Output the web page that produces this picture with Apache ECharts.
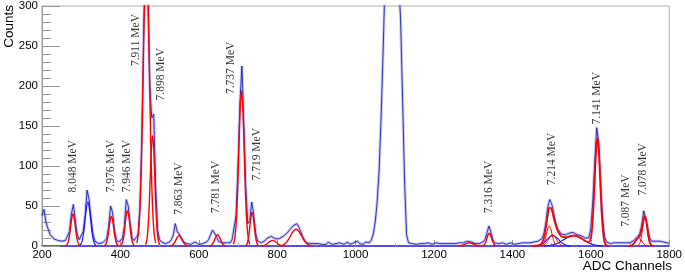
<!DOCTYPE html>
<html>
<head>
<meta charset="utf-8">
<script src="https://cdn.jsdelivr.net/npm/echarts@6/dist/echarts.min.js"></script>
<style>
html, body { margin: 0; padding: 0; background: #fff; }
#chart { width: 685px; height: 275px; }
</style>
</head>
<body>
<div id="chart"></div>
<script>
// histogram: counts per 5-channel bin, 200 .. 1800
const binStart = 200
const binWidth = 5
const counts = [
  38, 46, 30, 22, 15, 12, 9, 11, 7, 9,            // 200
  6, 8, 7, 8, 18, 40, 52, 32, 14, 8,              // 250
  10, 18, 38, 70, 58, 35, 15, 6, 4, 3,            // 300
  4, 4, 5, 9, 24, 50, 42, 20, 8, 5,               // 350
  6, 9, 24, 58, 50, 28, 10, 7, 7, 14,             // 400
  50, 140, 280, 370, 320, 200, 160, 165, 75, 20,  // 450
  8, 5, 4, 3, 4, 5, 8, 14, 28, 18,                // 500
  15, 9, 5, 4, 3, 4, 2, 3, 5, 3,                  // 550
  2, 4, 3, 5, 5, 8, 14, 20, 18, 12,               // 600
  6, 4, 4, 3, 4, 6, 4, 8, 10, 38,                 // 650
  100, 180, 225, 150, 72, 28, 32, 55, 40, 16,     // 700
  6, 4, 4, 5, 7, 10, 12, 12, 10, 9,               // 750
  8, 9, 10, 12, 14, 16, 19, 22, 25, 27,           // 800
  28, 24, 18, 12, 7, 4, 4, 3, 3, 3,               // 850
  2, 3, 4, 2, 3, 2, 5, 3, 2, 3,                   // 900
  3, 2, 4, 3, 2, 3, 5, 2, 3, 4,                   // 950
  3, 6, 3, 4, 2, 5, 3, 4, 7, 15,                  // 1000
  30, 55, 95, 160, 240, 330, 400, 440, 460, 470,  // 1050
  450, 400, 330, 280, 180, 80, 14, 4, 4, 3,       // 1100
  3, 2, 4, 3, 2, 3, 2, 4, 3, 2,                   // 1150
  3, 4, 2, 3, 5, 3, 2, 3, 4, 3,                   // 1200
  2, 3, 3, 4, 3, 4, 4, 6, 6, 5,                   // 1250
  3, 3, 4, 3, 4, 5, 8, 16, 25, 18,                // 1300
  8, 4, 3, 3, 2, 4, 3, 2, 3, 4,                   // 1350
  3, 2, 4, 3, 3, 4, 3, 4, 3, 4,                   // 1400
  4, 5, 5, 6, 7, 9, 15, 28, 48, 58,               // 1450
  53, 42, 30, 22, 18, 15, 13, 14, 15, 16,         // 1500
  15, 17, 16, 14, 15, 13, 12, 10, 12, 10,         // 1550
  22, 55, 105, 148, 130, 80, 35, 12, 5, 4,        // 1600
  3, 3, 4, 3, 4, 5, 4, 5, 4, 4,                   // 1650
  4, 5, 7, 9, 12, 16, 26, 44, 42, 24,             // 1700
  10, 6, 5, 6, 5, 6, 4, 5, 4, 4,                  // 1750
  3                                               // 1800
]

// red fit components [channel, counts]
const fit8048 = [[261,0.4],[264,1.8],[267,5.4],[270,13],[273,24],[276,35],[279,40],[282,35],[285,24],[288,13],[291,5.4],[294,1.8],[297,0.4]]
const fit7976 = [[359,0.4],[362,1.6],[365,5],[368,12],[371,22.6],[374,32.6],[377,37],[380,32.6],[383,22.6],[386,12],[389,5],[392,1.6],[395,0.4]]
const fit7946 = [[400,0.5],[403,1.9],[406,5.9],[409,14],[412,27],[415,39],[418,44],[421,39],[424,27],[427,14],[430,5.9],[433,1.9],[436,0.5]]
const fit7911 = [[442,4],[446,16],[450,49],[454,115],[458,220],[462,317],[466,360],[470,317],[474,220],[478,115],[482,49],[486,16],[490,4]]
const fit7898 = [[464,1.5],[467,6],[470,19],[473,44],[476,84],[479,121],[482,138],[485,121],[488,84],[491,44],[494,19],[497,6],[500,1.5]]
const fit7863 = [[526,0.1],[530,0.6],[534,1.8],[538,4.2],[542,8],[546,11.4],[550,13],[554,11.4],[558,8],[562,4.2],[566,1.8],[570,0.6],[574,0.1]]
const fit7781 = [[627,0.15],[630.5,0.6],[634,1.9],[637.5,4.5],[641,8.5],[644.5,12.3],[648,14],[651.5,12.3],[655,8.5],[658.5,4.5],[662,1.9],[665.5,0.6],[669,0.15]]
const fit7737 = [[688,2.1],[691.5,8.5],[695,26],[698.5,62],[702,118],[705.5,171],[709,194],[712.5,171],[716,118],[719.5,62],[723,26],[726.5,8.5],[730,2.1]]
const fit7719 = [[719.5,0.5],[722.25,1.8],[725,5.7],[727.75,13.4],[730.5,25.6],[733.25,37],[736,42],[738.75,37],[741.5,25.6],[744.25,13.4],[747,5.7],[749.75,1.8],[752.5,0.5]]
const fit790 = [[758,0.08],[763,0.3],[768,0.9],[773,2.2],[778,4.3],[783,6.2],[788,7],[793,6.2],[798,4.3],[803,2.2],[808,0.9],[813,0.3],[818,0.08]]
const fit850 = [[806,0.2],[813,0.9],[820,2.8],[827,6.7],[834,12.8],[841,18.5],[848,21],[855,18.5],[862,12.8],[869,6.7],[876,2.8],[883,0.9],[890,0.2]]
const fit1290 = [[1260,0.04],[1265,0.2],[1270,0.5],[1275,1.3],[1280,2.4],[1285,3.5],[1290,4],[1295,3.5],[1300,2.4],[1305,1.3],[1310,0.5],[1315,0.2],[1320,0.04]]
const fit7316 = [[1323,0.2],[1326,0.7],[1329,2.2],[1332,5.1],[1335,9.8],[1338,14.1],[1341,16],[1344,14.1],[1347,9.8],[1350,5.1],[1353,2.2],[1356,0.7],[1359,0.2]]
const fit7214a = [[1473,0.3],[1476.5,1.1],[1480,3.4],[1483.5,8],[1487,15.3],[1490.5,22],[1494,25],[1497.5,22],[1501,15.3],[1504.5,8],[1508,3.4],[1511.5,1.1],[1515,0.3]]
const fit7214b = [[1472,0.15],[1477,0.6],[1482,1.9],[1487,4.5],[1492,8.5],[1497,12.3],[1502,14],[1507,12.3],[1512,8.5],[1517,4.5],[1522,1.9],[1527,0.6],[1532,0.15]]
const fitCluster = [[1450,0.1],[1460,0.3],[1470,1.4],[1475,3.6],[1480,9],[1485,21],[1490,38],[1495,48],[1500,46],[1505,36],[1510,27],[1515,20],[1520,15],[1525,12],[1530,11],[1535,11],[1540,11],[1545,12],[1550,12.6],[1555,13],[1560,12.9],[1565,12.2],[1570,11.2],[1575,9.8],[1580,8.2],[1585,6.6],[1590,5.3],[1595,4.9],[1600,9.8],[1603,20],[1605,33],[1608,60],[1610,82],[1612,105],[1614,123],[1617,135],[1620,123],[1622,105],[1624,82],[1627,48],[1630,24],[1632,14],[1635,5],[1640,0.6],[1645,0]]
const fit7087 = [[1698,0.1],[1702,0.44],[1706,1.35],[1710,3.2],[1714,6.1],[1718,8.8],[1722,10],[1726,8.8],[1730,6.1],[1734,3.2],[1738,1.35],[1742,0.44],[1746,0.1]]
const fit7078 = [[1720,0.4],[1723,1.6],[1726,4.9],[1729,11.5],[1732,22],[1735,31.7],[1738,36],[1741,31.7],[1744,22],[1747,11.5],[1750,4.9],[1753,1.6],[1756,0.4]]
const fitTail = [[1695,0],[1700,0.2],[1705,1],[1710,3.2],[1715,6.8],[1720,10.1],[1725,12.7],[1730,20.9],[1733,29],[1735,34.5],[1738,37.4],[1740,35],[1743,26],[1745,18.5],[1750,4.9],[1755,0.7],[1760,0]]

// blue (background / unassigned) fit components
const bgPeak317 = [[296,0.6],[299.5,2.4],[303,7.4],[306.5,17.6],[310,33.5],[313.5,48],[317,55],[320.5,48],[324,33.5],[327.5,17.6],[331,7.4],[334.5,2.4],[338,0.6]]
const bgHump1 = [[1458,0.14],[1465.5,0.6],[1473,1.8],[1480.5,4.2],[1488,7.9],[1495.5,11.4],[1503,13],[1510.5,11.4],[1518,7.9],[1525.5,4.2],[1533,1.8],[1540.5,0.6],[1548,0.14]]
const bgHump2 = [[1481,0.14],[1493.5,0.6],[1506,1.8],[1518.5,4.2],[1531,7.9],[1543.5,11.4],[1556,13],[1568.5,11.4],[1581,7.9],[1593.5,4.2],[1606,1.8],[1618.5,0.6],[1631,0.14]]

// peak annotations
const peakNames = ['8.048 MeV', '7.976 MeV', '7.946 MeV', '7.911 MeV', '7.898 MeV', '7.863 MeV', '7.781 MeV',
  '7.737 MeV', '7.719 MeV', '7.316 MeV', '7.214 MeV', '7.141 MeV', '7.087 MeV', '7.078 MeV']
const peakChannels = [279, 377, 418, 441, 504, 550, 644, 682, 748, 1339, 1501, 1615, 1691, 1734]
const peakLabelCounts = [67, 67, 67, 225, 182, 39, 41, 190, 82, 41, 76, 152, 24, 63]

const xTicks = { min: 200, max: 1800, interval: 200 }
const yTicks = { min: 0, max: 300, interval: 50 }

const histData = counts.map((c, i) => [binStart + i * binWidth, c])

const myChart = echarts.init(document.getElementById('chart'))

function redLine(data, width) {
  return {
    type: 'line', data: data, smooth: 0.4, symbol: 'none', silent: true, z: 4,
    lineStyle: { color: '#ff0000', width: width || 1.4 }
  }
}
function blueLine(data) {
  return {
    type: 'line', data: data, smooth: 0.4, symbol: 'none', silent: true, z: 3,
    lineStyle: { color: '#1010ff', width: 1.1 }
  }
}

const option = {
  animation: false,
  backgroundColor: '#fff',
  grid: {
    left: 42, right: 12, top: 5, bottom: 29,
    show: true, borderColor: '#b0b0b0', borderWidth: 1
  },
  xAxis: {
    type: 'value',
    min: xTicks.min, max: xTicks.max, interval: xTicks.interval,
    axisLine: { lineStyle: { color: '#2a2ad0', width: 1.5 } },
    axisTick: { inside: true, length: 6, lineStyle: { color: '#999' } },
    minorTick: { show: true, splitNumber: 2, length: 3, lineStyle: { color: '#aaa' } },
    splitLine: { show: false },
    axisLabel: {
      margin: 3, fontFamily: 'Liberation Sans', fontSize: 11.5, color: '#000',
      formatter: v => String(v)
    }
  },
  yAxis: {
    type: 'value',
    min: yTicks.min, max: yTicks.max, interval: yTicks.interval,
    axisLine: { show: true, lineStyle: { color: '#999' } },
    axisTick: { inside: true, length: 18, lineStyle: { color: '#999' } },
    minorTick: { show: true, splitNumber: 5, length: 9, lineStyle: { color: '#999' } },
    splitLine: { show: false },
    axisLabel: { margin: 4, fontFamily: 'Liberation Sans', fontSize: 11.5, color: '#000' }
  },
  graphic: [
    {
      type: 'text', right: 13, top: 259,
      style: { text: 'ADC Channels', font: '13.5px "Liberation Sans"', fill: '#000' }
    },
    {
      type: 'text', x: 2, y: 5, rotation: Math.PI / 2,
      style: { text: 'Counts', font: '13.5px "Liberation Sans"', fill: '#000', align: 'right', verticalAlign: 'top' }
    }
  ],
  series: [
    {
      // error-bar fuzz
      type: 'line', data: histData, symbol: 'none', silent: true, z: 1,
      lineStyle: { color: 'rgba(110,110,225,0.35)', width: 3 }
    },
    {
      type: 'line', data: histData, symbol: 'none', silent: true, z: 2,
      lineStyle: { color: '#2020b0', width: 0.9 }
    },
    blueLine(bgPeak317),
    blueLine(bgHump1),
    blueLine(bgHump2),
    redLine(fit8048), redLine(fit7976), redLine(fit7946), redLine(fit7911), redLine(fit7898),
    redLine(fit7863), redLine(fit7781), redLine(fit7737), redLine(fit7719), redLine(fit790),
    redLine(fit850), redLine(fit1290), redLine(fit7316),
    redLine(fit7214a, 1), redLine(fit7214b, 1), redLine(fitCluster, 1.8),
    redLine(fit7087, 1), redLine(fit7078, 1), redLine(fitTail, 1.8),
    {
      type: 'scatter', symbolSize: 0, silent: true, z: 6,
      data: peakNames.map((n, i) => ({ name: n, value: [peakChannels[i], peakLabelCounts[i]] })),
      label: {
        show: true, formatter: '{b}', rotate: 90, position: [0, 0],
        align: 'left', verticalAlign: 'middle',
        fontFamily: 'Liberation Serif', fontSize: 11.5, color: '#000'
      }
    }
  ]
}

myChart.setOption(option)
</script>
</body>
</html>
